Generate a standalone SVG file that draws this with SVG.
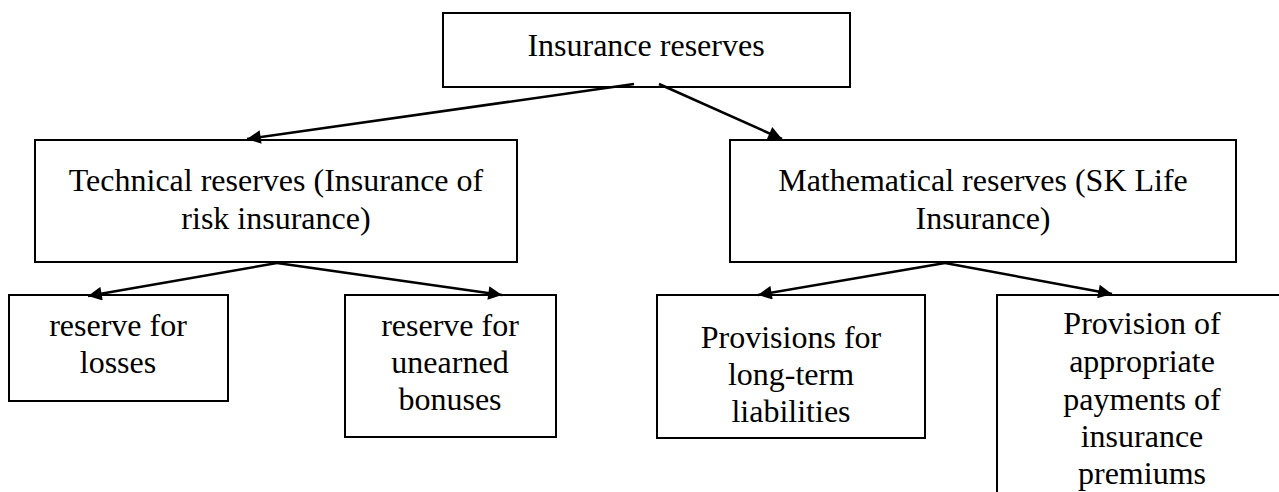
<svg xmlns="http://www.w3.org/2000/svg" width="1279" height="492" viewBox="0 0 1279 492">
<style>
.box{fill:#fff;stroke:#000;stroke-width:2}
.t{font-family:"Liberation Serif","Times New Roman",serif;font-size:32px;fill:#000;text-anchor:middle}
.c{stroke:#000;stroke-width:2.5;fill:none;marker-end:url(#ah)}
</style>
<defs>
<marker id="ah" viewBox="0 0 10 10" refX="10" refY="5" markerWidth="7" markerHeight="5.5" markerUnits="strokeWidth" orient="auto">
<path d="M0,0 L10,5 L0,10 z" fill="#000"/>
</marker>
</defs>
<g id="n-top">
<rect class="box" x="443" y="13" width="407" height="74"/>
<text class="t" x="646" y="56">Insurance reserves</text>
</g>
<g id="n-tech">
<rect class="box" x="35" y="140" width="482" height="122"/>
<text class="t" x="276" y="191">Technical reserves (Insurance of</text>
<text class="t" x="276" y="229">risk insurance)</text>
</g>
<g id="n-math">
<rect class="box" x="730" y="140" width="506" height="122"/>
<text class="t" x="983" y="191">Mathematical reserves (SK Life</text>
<text class="t" x="983" y="229">Insurance)</text>
</g>
<g id="n-losses">
<rect class="box" x="9" y="295" width="219" height="106"/>
<text class="t" x="118" y="336">reserve for</text>
<text class="t" x="118" y="373">losses</text>
</g>
<g id="n-unearned">
<rect class="box" x="345" y="295" width="211" height="142"/>
<text class="t" x="450" y="336">reserve for</text>
<text class="t" x="450" y="373">unearned</text>
<text class="t" x="450" y="410">bonuses</text>
</g>
<g id="n-longterm">
<rect class="box" x="657" y="295" width="268" height="143"/>
<text class="t" x="791" y="348">Provisions for</text>
<text class="t" x="791" y="385">long-term</text>
<text class="t" x="791" y="422">liabilities</text>
</g>
<g id="n-premiums">
<rect class="box" x="997" y="295" width="300" height="220"/>
<text class="t" x="1142" y="334">Provision of</text>
<text class="t" x="1142" y="372">appropriate</text>
<text class="t" x="1142" y="410">payments of</text>
<text class="t" x="1142" y="447">insurance</text>
<text class="t" x="1142" y="484">premiums</text>
</g>
<g id="connectors">
<line class="c" x1="634" y1="84" x2="247" y2="139"/>
<line class="c" x1="659" y1="84" x2="782" y2="139"/>
<line class="c" x1="277" y1="263" x2="88" y2="296"/>
<line class="c" x1="277" y1="263" x2="502" y2="295"/>
<line class="c" x1="945" y1="263" x2="758" y2="295"/>
<line class="c" x1="945" y1="263" x2="1112" y2="294"/>
</g>
</svg>
